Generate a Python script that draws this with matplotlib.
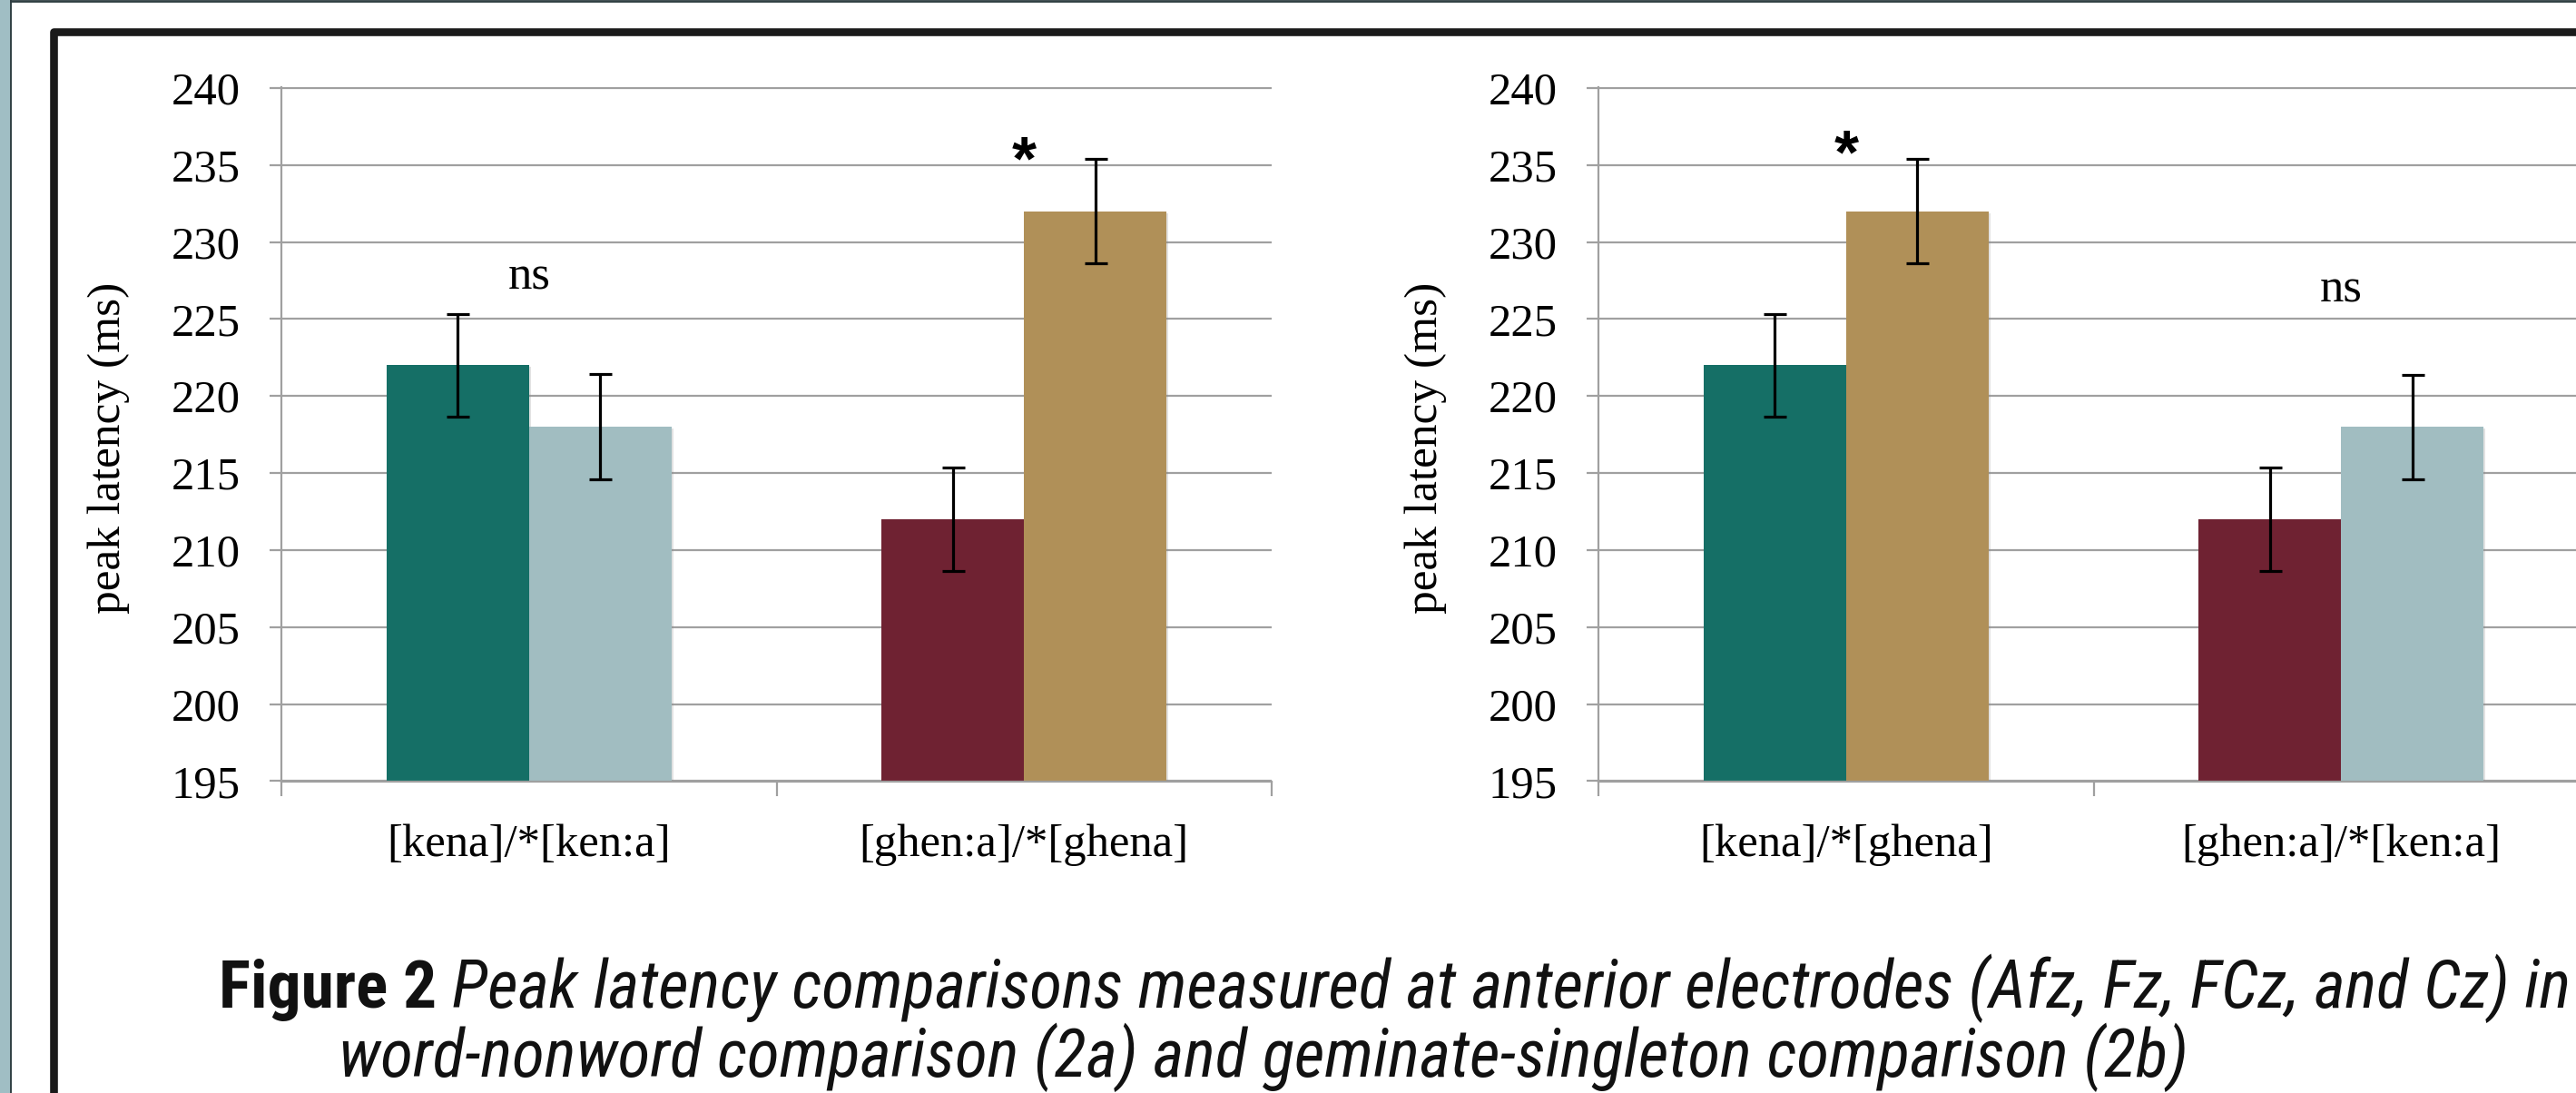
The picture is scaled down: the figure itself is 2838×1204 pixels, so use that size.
import matplotlib
matplotlib.use("Agg")
import matplotlib.pyplot as plt
import numpy as np
from matplotlib import font_manager, patches, patheffects
from matplotlib.lines import Line2D

W, H, DPI = 2838, 1204, 100

# ---- values ----
a_labels = ["[kena]/*[ken:a]", "[ghen:a]/*[ghena]"]
a_first = [222, 212]
a_first_err = [3.33, 3.33]
a_second = [218, 232]
a_second_err = [3.4, 3.4]
a_marks = ["ns", "*"]

b_labels = ["[kena]/*[ghena]", "[ghen:a]/*[ken:a]"]
b_first = [222, 212]
b_first_err = [3.33, 3.33]
b_second = [232, 218]
b_second_err = [3.4, 3.38]
b_marks = ["*", "ns"]

y_ticks = [195, 200, 205, 210, 215, 220, 225, 230, 235, 240]

caption_bold = "Figure 2"
caption_rest = " Peak latency comparisons measured at anterior electrodes (Afz, Fz, FCz, and Cz) in"
caption_line2 = "word-nonword comparison (2a) and geminate-singleton comparison (2b)"

# ---- style ----
TEAL = "#156f66"
LIGHT = "#a1bdc1"
MAROON = "#6f2232"
TAN = "#b09058"
GRID = "#a0a0a0"
SERIF = "Liberation Serif"


def _w(v):
    return v if isinstance(v, (int, float)) else font_manager.weight_dict.get(v, 400)


# caption is set in a condensed sans in the poster; take one (with a bold face) if there is any
faces = {}
for f in font_manager.fontManager.ttflist:
    low = f.name.lower()
    if "serif" in low or "mono" in low:
        continue
    if "narrow" in low or "condensed" in low:
        faces.setdefault(f.name, set()).add((_w(f.weight), f.style))
pref = ["Liberation Sans Narrow", "Roboto Condensed", "Open Sans Condensed"]


def _score(name):
    fs_ = faces[name]
    bold = any(w >= 600 for w, s in fs_)
    ital = any(s == "italic" for w, s in fs_)
    reg = any(350 <= w <= 500 for w, s in fs_)
    p = len(pref) - pref.index(name) if name in pref else 0
    return (bold, ital, reg, p)


CAP_FONT = max(faces, key=_score) if faces else "Liberation Sans"

# y position of the "ns" / "*" texts (baseline)
a_mark_y = [226.95, 234.1]
b_mark_y = [234.5, 226.1]


def draw_panel(ax, labels, first, first_err, second, second_err,
               first_colors, second_colors, marks, mark_y):
    x = np.arange(len(labels))
    w = 0.2875
    y0 = y_ticks[0]
    shadow = [patheffects.SimplePatchShadow(offset=(1.5, -1.5), shadow_rgbFace="0.55", alpha=0.25),
              patheffects.Normal()]
    b1 = ax.bar(x - w / 2, np.array(first) - y0, w, bottom=y0, color=first_colors, zorder=2)
    b2 = ax.bar(x + w / 2, np.array(second) - y0, w, bottom=y0, color=second_colors, zorder=2)
    for r in list(b1) + list(b2):
        r.set_path_effects(shadow)
    for xs, ys, es in [(x - w / 2, first, first_err), (x + w / 2, second, second_err)]:
        ax.errorbar(xs, ys, yerr=es, fmt="none", ecolor="black", elinewidth=2.3,
                    capsize=9, capthick=2.3, zorder=4)

    for xi, m, my in zip(x, marks, mark_y):
        if m == "*":
            ax.text(xi, my, m, ha="center", va="baseline", fontsize=50,
                    family="Liberation Sans", weight="bold", zorder=5)
        else:
            ax.text(xi, my, m, ha="center", va="baseline", fontsize=38,
                    family=SERIF, zorder=5)

    ax.set_xlim(-0.5, len(labels) - 0.5)
    ax.set_ylim(195, 240.05)
    ax.set_yticks(y_ticks)
    ax.set_xticks(x)
    ax.set_xticklabels(labels, fontsize=36.5, family=SERIF)
    ax.set_xticks(np.arange(len(labels) + 1) - 0.5, minor=True)
    ax.tick_params(axis="x", which="major", length=0, pad=34)
    ax.tick_params(axis="x", which="minor", length=11.5, width=1.6, color=GRID, direction="out")
    ax.tick_params(axis="y", length=9.5, width=1.6, color=GRID, pad=23, labelsize=36.5)
    for t in ax.get_yticklabels():
        t.set_family(SERIF)
    ax.grid(axis="y", color=GRID, lw=1.6, zorder=0)
    ax.set_axisbelow(True)
    for s in ["top", "right"]:
        ax.spines[s].set_visible(False)
    for s in ["left", "bottom"]:
        ax.spines[s].set_color(GRID)
        ax.spines[s].set_linewidth(1.6)
    ax.set_ylabel("peak latency (ms)", fontsize=37, family=SERIF)
    ax.yaxis.set_label_coords(-0.153, 0.48)


fig = plt.figure(figsize=(W / DPI, H / DPI), dpi=DPI, facecolor="white")

# poster frame pieces
fig.add_artist(patches.Rectangle((0, 0), 10.7 / W, 1, transform=fig.transFigure,
                                 facecolor="#a0bec4", edgecolor="none"))
fig.add_artist(Line2D([11.6 / W, 11.6 / W], [0, 1], transform=fig.transFigure,
                      color="#2f3f42", lw=1.4))
fig.add_artist(Line2D([11.6 / W, 1], [1 - 1.4 / H, 1 - 1.4 / H], transform=fig.transFigure,
                      color="#2f3f42", lw=2))
fig.add_artist(patches.Rectangle((59 / W, -0.1), 1.2, 1.1 - 34.5 / H, transform=fig.transFigure,
                                 fill=False, edgecolor="#1a1a1a", lw=6.2, joinstyle="round"))

ax_a = fig.add_axes([310 / W, 1 - 860.5 / H, 1091 / W, 764.5 / H])
ax_b = fig.add_axes([1761 / W, 1 - 860.5 / H, 1091 / W, 764.5 / H])

draw_panel(ax_a, a_labels, a_first, a_first_err, a_second, a_second_err,
           [TEAL, MAROON], [LIGHT, TAN], a_marks, a_mark_y)
draw_panel(ax_b, b_labels, b_first, b_first_err, b_second, b_second_err,
           [TEAL, MAROON], [TAN, LIGHT], b_marks, b_mark_y)

# caption
fs = 50
y1, y2 = 1 - 1110 / H, 1 - 1186 / H
cap_kw = dict(family=CAP_FONT, va="baseline", color="#111111")
t1 = fig.text(241 / W, y1, caption_bold, fontsize=fs, weight="bold", **cap_kw)
t2 = fig.text(0, 0, caption_rest, fontsize=fs, style="italic", weight="normal", **cap_kw)
t3 = fig.text(373 / W, y2, caption_line2, fontsize=fs, style="italic", weight="normal", **cap_kw)

# size the caption so the first line runs to the right edge as in the poster
fig.canvas.draw()
r = fig.canvas.get_renderer()
w1 = t1.get_window_extent(r).width + t2.get_window_extent(r).width
scale = (2832 - 241) / w1
for t in (t1, t2, t3):
    t.set_fontsize(fs * scale)
fig.canvas.draw()
bb = t1.get_window_extent(r)
t2.set_position((bb.x1 / W, y1))

fig.savefig("out.png", dpi=DPI, facecolor="white")
